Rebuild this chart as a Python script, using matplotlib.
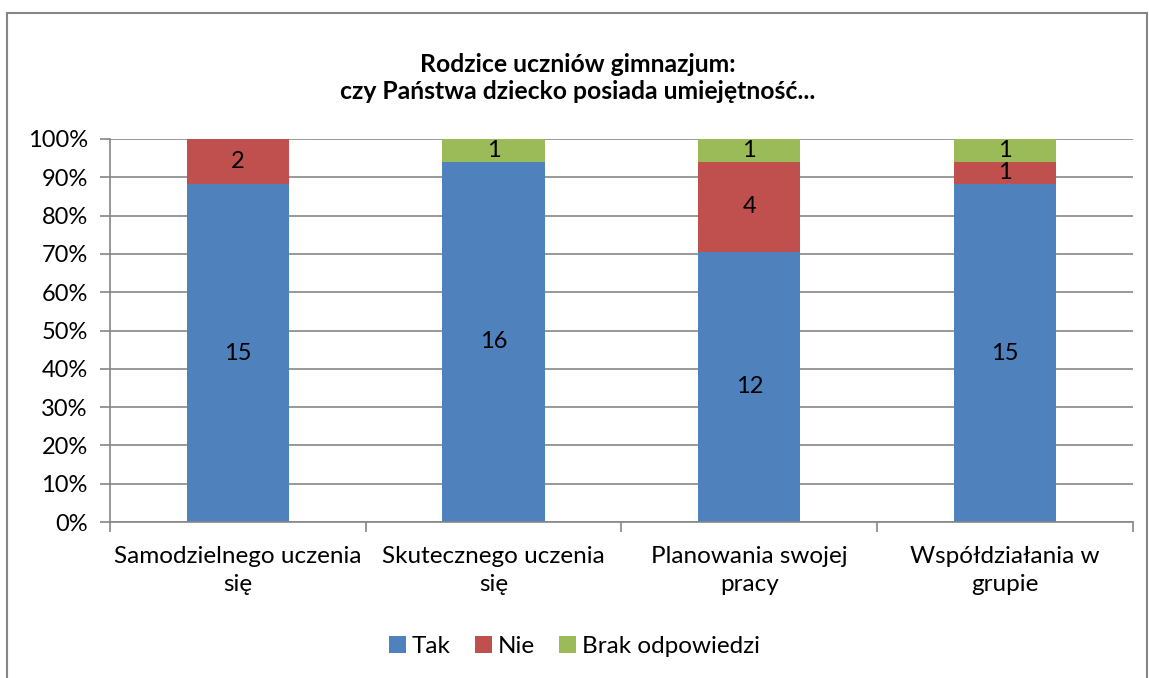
import numpy as np
import matplotlib.pyplot as plt
from matplotlib.patches import Rectangle
from matplotlib.ticker import FixedLocator, PercentFormatter

plt.rcParams['font.family'] = ['Lato', 'DejaVu Sans']

# ── Data ───────────────────────────────────────────────────────────
categories = ["Samodzielnego uczenia\nsię", "Skutecznego uczenia\nsię",
              "Planowania swojej\npracy", "Współdziałania w\ngrupie"]
series_names = ["Tak", "Nie", "Brak odpowiedzi"]
tak = [15, 16, 12, 15]
nie = [2, 0, 4, 1]
brak = [0, 1, 1, 1]
colors = ["#4F81BD", "#C0504D", "#9BBB59"]
grid_color = "#868686"

counts = np.array([tak, nie, brak], dtype=float)
shares = counts / counts.sum(axis=0) * 100

fig = plt.figure(figsize=(11.49, 6.78), dpi=100)
ax = fig.add_axes([0.0957, 0.230, 0.8903, 0.565])

# Outer chart border
fig.patches.append(Rectangle((7 / 1149, -0.2), 1140 / 1149, 1.2 - 13 / 678,
                             transform=fig.transFigure, fill=False,
                             edgecolor=grid_color, linewidth=1.5))

x = np.arange(len(categories))
bottom = np.zeros(len(categories))
for name, vals, raw, col in zip(series_names, shares, counts, colors):
    ax.bar(x, vals, width=0.4, bottom=bottom, color=col, label=name)
    for xi, b, v, r in zip(x, bottom, vals, raw):
        if r > 0:
            ax.text(xi, b + v / 2, f"{int(r)}", ha="center", va="center",
                    fontsize=17, color="black")
    bottom += vals

ax.set_xlim(-0.5, len(categories) - 0.5)
ax.set_ylim(0, 100)
ax.yaxis.set_major_locator(FixedLocator(np.arange(0, 101, 10)))
ax.yaxis.set_major_formatter(PercentFormatter(decimals=0))
ax.grid(axis="y", color=grid_color, linewidth=1.2)
ax.set_axisbelow(True)

ax.set_xticks(x)
ax.set_xticklabels(categories, fontsize=17.5, linespacing=1.45)
ax.set_xticks(np.arange(-0.5, len(categories)), minor=True)
ax.tick_params(axis="x", which="major", length=0, pad=17)
ax.tick_params(axis="x", which="minor", length=7, color=grid_color, width=1.2)
ax.tick_params(axis="y", length=7, color=grid_color, width=1.2, labelsize=17, pad=9)

for side in ["top", "right"]:
    ax.spines[side].set_visible(False)
for side in ["left", "bottom"]:
    ax.spines[side].set_color(grid_color)
    ax.spines[side].set_linewidth(1.2)

fig.text(0.503, 0.885, "Rodzice uczniów gimnazjum:\nczy Państwa dziecko posiada umiejętność...",
         ha="center", va="center", fontsize=17.8, fontweight="bold", linespacing=1.2)

fig.legend(loc="center", bbox_to_anchor=(0.5, 0.046), ncol=3, frameon=False,
           fontsize=17.5, handlelength=0.7, handleheight=0.7, handletextpad=0.25,
           columnspacing=1.0)

fig.savefig("out.png", dpi=100)
